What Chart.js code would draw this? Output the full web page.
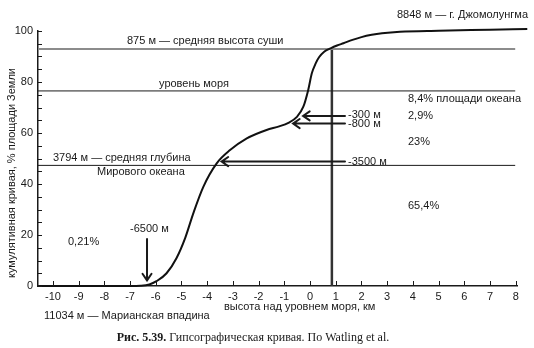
<!DOCTYPE html>
<html>
<head>
<meta charset="utf-8">
<script src="https://cdn.jsdelivr.net/npm/chart.js@4"></script>
<style>
  body { margin: 0; background: #fff; }
  #chart { display: block; }
</style>
</head>
<body>
<canvas id="chart" width="534" height="348"></canvas>
<script>
// гипсографическая кривая: высота (км) -> кумулятивная доля площади (%)
const heightKm = [-10.5, -7, -6.6, -6.25, -5.97, -5.58, -5.19, -4.85, -4.54, -4.15, -3.63, -3.11, -2.46, -1.69, -1.2, -0.84, -0.52, -0.26, -0.07, 0.07, 0.22, 0.35, 0.55, 0.8, 1.05, 1.3, 1.65, 2.0, 2.4, 2.8, 3.5, 5, 7, 8.45];
const cumPercent = [0, 0, 0.1, 0.6, 1.9, 5, 11, 19, 28.5, 38.9, 48.1, 53.3, 57.9, 61.2, 62.6, 64.0, 66.2, 70.3, 76.9, 83.4, 87.3, 89.7, 91.9, 93.2, 94.3, 95.2, 96.5, 97.6, 98.5, 99.1, 99.7, 100.1, 100.5, 100.8];

const xTicks = [-10, -9, -8, -7, -6, -5, -4, -3, -2, -1, 0, 1, 2, 3, 4, 5, 6, 7, 8];
const yTicks = [0, 20, 40, 60, 80, 100];

// уровни: средняя высота суши, уровень моря, средняя глубина
const landMeanY = 92.9;
const seaLevelY = 76.5;
const oceanMeanY = 47.3;
const landMeanX = 0.85;

// стрелки глубин
const arrowLabels = ['-300 м', '-800 м', '-3500 м'];
const arrowTipX = [-0.27, -0.66, -3.44];
const arrowY = [66.7, 63.7, 48.8];

// доли площади океана
const shareLabels = ['8,4% площади океана', '2,9%', '23%', '65,4%', '0,21%'];
const shareY = [73.2, 66.7, 56.5, 31.5, 17.2];

const SANS = '"Liberation Sans", Arial, sans-serif';
const SERIF = '"Liberation Serif", "Times New Roman", serif';
const INK = '#1a1a1a';

function line(x1, y1, x2, y2) {
  return [{ x: x1, y: y1 }, { x: x2, y: y2 }];
}

const annotations = {
  id: 'annotations',
  afterDatasetsDraw(chart) {
    const ctx = chart.ctx;
    const xs = chart.scales.x, ys = chart.scales.y;
    const area = chart.chartArea;
    ctx.save();
    ctx.strokeStyle = INK;
    ctx.lineWidth = 1;
    // мелкие засечки внутрь
    ctx.beginPath();
    for (let v = 0; v <= 100; v += 5) {
      const py = Math.round(ys.getPixelForValue(v)) + 0.5;
      ctx.moveTo(area.left, py);
      ctx.lineTo(area.left + 4, py);
    }
    xTicks.forEach(v => {
      const px = Math.round(xs.getPixelForValue(v)) + 0.5;
      ctx.moveTo(px, area.bottom);
      ctx.lineTo(px, area.bottom - 5);
    });
    ctx.stroke();

    // стрелки
    ctx.lineWidth = 2;
    ctx.lineCap = 'round';
    const shaftEnd = xs.getPixelForValue(1.36);
    function arrow(x1, y1, x2, y2) {
      const a = Math.atan2(y2 - y1, x2 - x1);
      const h = 8, w = 0.6;
      ctx.beginPath();
      ctx.moveTo(x1, y1);
      ctx.lineTo(x2, y2);
      ctx.moveTo(x2 - h * Math.cos(a - w), y2 - h * Math.sin(a - w));
      ctx.lineTo(x2, y2);
      ctx.lineTo(x2 - h * Math.cos(a + w), y2 - h * Math.sin(a + w));
      ctx.stroke();
    }
    arrowTipX.forEach((tx, i) => {
      const py = ys.getPixelForValue(arrowY[i]);
      arrow(shaftEnd, py, xs.getPixelForValue(tx), py);
    });
    const ax = xs.getPixelForValue(-6.34);
    arrow(ax, ys.getPixelForValue(18.4), ax, ys.getPixelForValue(2.2));
    ctx.restore();
  },
  afterDraw(chart) {
    const ctx = chart.ctx;
    const xs = chart.scales.x, ys = chart.scales.y;
    ctx.save();
    ctx.fillStyle = INK;
    ctx.textBaseline = 'middle';
    ctx.font = '11px ' + SANS;
    const txt = (s, x, y) => ctx.fillText(s, x, y);

    txt('8848 м — г. Джомолунгма', 397, 15);
    txt('875 м — средняя высота суши', 127, ys.getPixelForValue(landMeanY) - 8);
    txt('уровень моря', 159, ys.getPixelForValue(seaLevelY) - 7);
    txt('3794 м — средняя глубина', 53, ys.getPixelForValue(oceanMeanY) - 7);
    txt('Мирового океана', 97, ys.getPixelForValue(oceanMeanY) + 6.5);

    const labelX = xs.getPixelForValue(1.48);
    arrowLabels.forEach((s, i) => {
      let py = ys.getPixelForValue(arrowY[i]);
      if (i === 0) py -= 1;
      txt(s, labelX, py);
    });
    txt('-6500 м', 130, ys.getPixelForValue(22.4));

    shareLabels.forEach((s, i) => {
      const px = i === 4 ? 68 : 408;
      txt(s, px, ys.getPixelForValue(shareY[i]));
    });

    txt('высота над уровнем моря, км', 224, 306.5);
    txt('11034 м — Марианская впадина', 44, 316);

    // подпись оси Y
    ctx.save();
    ctx.translate(12, 173);
    ctx.rotate(-Math.PI / 2);
    ctx.textAlign = 'center';
    txt('кумулятивная кривая, % площади Земли', 0, 0);
    ctx.restore();

    // подпись рисунка
    const bold = 'Рис. 5.39. ';
    const rest = 'Гипсографическая кривая. По Watling et al.';
    ctx.font = 'bold 12px ' + SERIF;
    const wb = ctx.measureText(bold).width;
    ctx.font = '12px ' + SERIF;
    const wr = ctx.measureText(rest).width;
    const cx = 253 - (wb + wr) / 2;
    ctx.font = 'bold 12px ' + SERIF;
    txt(bold, cx, 338);
    ctx.font = '12px ' + SERIF;
    txt(rest, cx + wb, 338);
    ctx.restore();
  }
};

new Chart(document.getElementById('chart').getContext('2d'), {
  type: 'line',
  data: {
    datasets: [
      {
        label: 'кривая',
        data: heightKm.map((x, i) => ({ x: x, y: cumPercent[i] })),
        borderColor: '#111',
        borderWidth: 2,
        pointRadius: 0,
        cubicInterpolationMode: 'monotone',
        clip: false
      },
      {
        label: 'средняя высота суши',
        data: line(-10.58, landMeanY, 7.98, landMeanY),
        borderColor: '#8c8c8c',
        borderWidth: 2,
        pointRadius: 0
      },
      {
        label: 'уровень моря',
        data: line(-10.58, seaLevelY, 7.98, seaLevelY),
        borderColor: INK,
        borderWidth: 1,
        pointRadius: 0
      },
      {
        label: 'средняя глубина',
        data: line(-10.58, oceanMeanY, 7.98, oceanMeanY),
        borderColor: INK,
        borderWidth: 1,
        pointRadius: 0
      },
      {
        label: '875 м',
        data: line(landMeanX, landMeanY, landMeanX, 0),
        borderColor: '#333',
        borderWidth: 2.5,
        pointRadius: 0
      }
    ]
  },
  options: {
    responsive: false,
    animation: false,
    devicePixelRatio: 1,
    layout: { padding: { left: 0, right: 17, top: 31, bottom: 0 } },
    plugins: { legend: { display: false }, tooltip: { enabled: false } },
    scales: {
      x: {
        type: 'linear',
        min: -10.58,
        max: 8.05,
        grid: { display: false, drawTicks: false },
        border: { color: INK, width: 1.5 },
        ticks: { color: INK, font: { family: SANS, size: 11 }, padding: 4, maxRotation: 0, autoSkip: false },
        afterBuildTicks: s => { s.ticks = xTicks.map(v => ({ value: v })); },
        afterFit: s => { s.height = 62; }
      },
      y: {
        min: 0,
        max: 100,
        grid: { display: false, drawTicks: false },
        border: { color: INK, width: 1.5 },
        ticks: { color: INK, font: { family: SANS, size: 11 }, padding: 5 },
        afterBuildTicks: s => { s.ticks = yTicks.map(v => ({ value: v })); },
        afterFit: s => { s.width = 38; }
      }
    }
  },
  plugins: [annotations]
});
</script>
</body>
</html>
